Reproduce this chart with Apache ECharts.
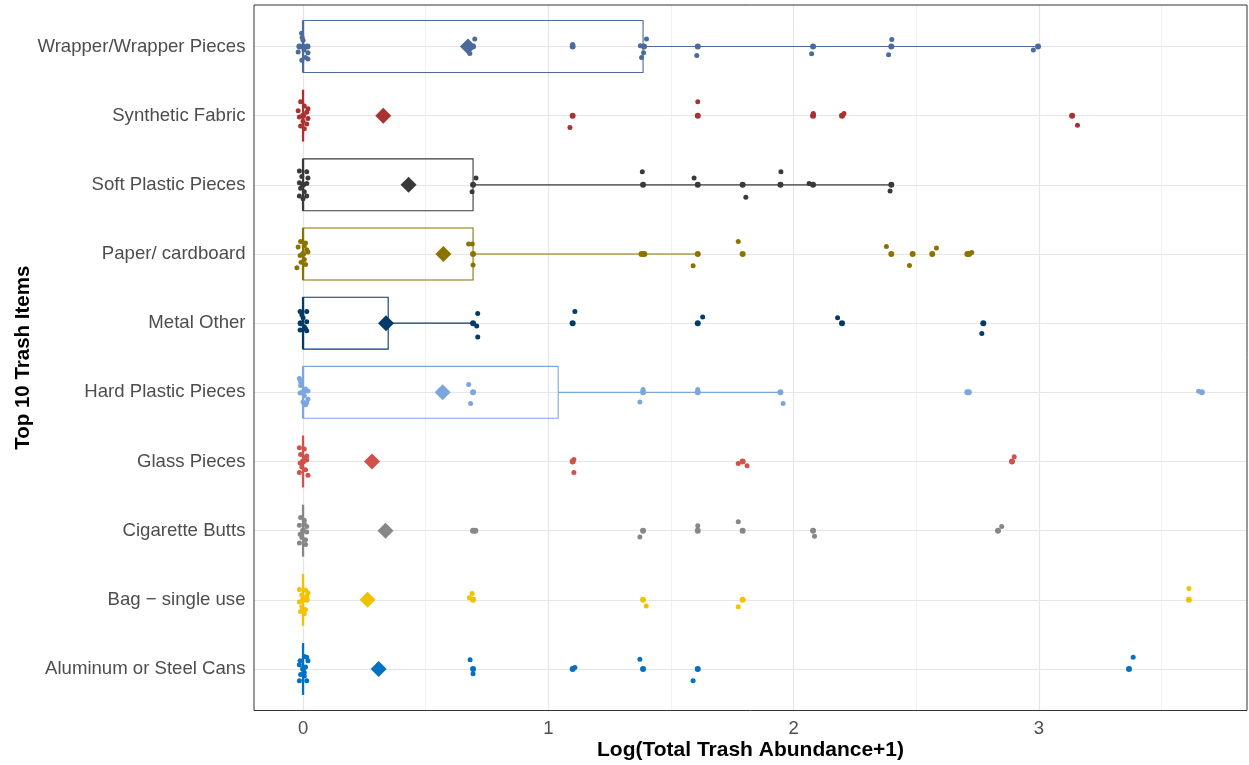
<!DOCTYPE html>
<html>
<head>
<meta charset="utf-8">
<script src="https://cdn.jsdelivr.net/npm/echarts@6/dist/echarts.min.js"></script>
<style>
html,body{margin:0;padding:0;background:#fff;}
#chart{width:1249px;height:765px;}
</style>
</head>
<body>
<div id="chart"></div>
<script>
// ---------- DATA ----------
const categories = ["Wrapper/Wrapper Pieces","Synthetic Fabric","Soft Plastic Pieces","Paper/ cardboard","Metal Other","Hard Plastic Pieces","Glass Pieces","Cigarette Butts","Bag \u2212 single use","Aluminum or Steel Cans"];
const colors = ["#4a6b9b","#a93230","#3a3a3a","#8b7300","#043a6a","#7ba7de","#d0524a","#878787","#f0c200","#0071c3"];
const xTicks = [0,1,2,3];

// box statistics per category: [min, q1, median, q3, whisker max]
const boxWrapper   = [0,0,0,1.386,2.996];
const boxSynthetic = [0,0,0,0,0];
const boxSoft      = [0,0,0,0.693,2.398];
const boxPaper     = [0,0,0,0.693,1.609];
const boxMetal     = [0,0,0,0.347,0.693];
const boxHard      = [0,0,0,1.04,1.946];
const boxGlass     = [0,0,0,0,0];
const boxCig       = [0,0,0,0,0];
const boxBag       = [0,0,0,0,0];
const boxAlu       = [0,0,0,0,0];

const means = [0.672,0.327,0.43,0.572,0.338,0.569,0.281,0.336,0.263,0.308];

// points: [x, vertical offset in category units (+ = up)]
const ptsWrapper = [[-0.006,0.19],[-0.004,0.13],[0.0,0.0],[0.018,0.0],[-0.02,-0.08],[0.004,-0.05],[0.02,-0.09],[0.01,-0.16],[-0.005,-0.2],[0.02,-0.18],[0.0,0.09],[-0.015,0.0],
  [0.693,0],[0.70,0.11],[0.68,-0.1],[0.665,-0.01],[1.099,0],[1.099,0.03],[1.375,0.01],[1.40,0.11],[1.39,0],[1.388,-0.09],[1.38,-0.16],[1.609,0],[1.605,-0.13],
  [2.079,0],[2.073,-0.105],[2.398,0],[2.40,0.1],[2.387,-0.12],[2.996,0],[2.977,-0.05]];
const ptsSynthetic = [[-0.01,0.2],[0.005,0.14],[-0.02,0.07],[0.015,0.05],[0.0,0.0],[-0.015,-0.02],[0.02,-0.04],[0.0,-0.08],[0.015,-0.12],[-0.01,-0.15],[0.005,-0.19],[0.02,0.1],
  [1.099,0],[1.088,-0.17],[1.609,0],[1.609,0.2],[2.079,0],[2.08,0.03],[2.197,0],[2.205,0.03],[3.135,0],[3.157,-0.14]];
const ptsSoft = [[-0.015,0.2],[0.015,0.19],[-0.005,0.12],[0.02,0.1],[0.0,0.0],[-0.015,0.03],[0.015,0.02],[-0.01,-0.05],[0.005,-0.1],[-0.015,-0.16],[0.015,-0.16],[0.0,-0.2],
  [0.693,0],[0.705,0.1],[0.689,-0.1],[1.386,0],[1.383,0.19],[1.609,0],[1.594,0.1],[1.792,0],[1.805,-0.18],[1.946,0],[1.948,0.19],[2.063,0.02],[2.079,0],[2.398,0],[2.393,-0.09]];
const ptsPaper = [[-0.01,0.18],[0.01,0.16],[-0.02,0.1],[0.015,0.06],[0.0,0.0],[-0.012,-0.02],[0.02,0.03],[0.005,-0.08],[-0.008,-0.12],[0.01,-0.15],[-0.025,-0.2],[0.005,0.12],
  [0.693,0],[0.675,0.145],[0.69,0.145],[0.693,-0.16],[1.38,0],[1.391,0],[1.609,0],[1.59,-0.17],[1.774,0.18],[1.792,0],[2.378,0.11],[2.398,0],[2.472,-0.165],[2.485,0],
  [2.565,0],[2.582,0.085],[2.708,0],[2.726,0.02],[2.715,0]];
const ptsMetal = [[-0.012,0.17],[0.015,0.17],[-0.01,0.0],[0.015,0.02],[-0.012,-0.1],[0.015,-0.11],[0.0,0.08],[0.005,-0.05],[-0.005,0.12],[0.01,-0.08],
  [0.693,0],[0.712,0.14],[0.708,-0.04],[0.712,-0.2],[1.099,0],[1.108,0.17],[1.609,0],[1.629,0.09],[2.179,0.08],[2.197,0],[2.773,0],[2.767,-0.15]];
const ptsHard = [[-0.015,0.2],[-0.01,0.15],[0.01,0.05],[0.02,0.02],[0.0,0.0],[-0.012,-0.01],[0.005,-0.05],[0.02,-0.1],[0.0,-0.14],[0.01,-0.18],[-0.01,0.1],[0.015,-0.15],
  [0.675,0.115],[0.693,0],[0.683,-0.16],[1.386,0],[1.386,0.04],[1.373,-0.14],[1.609,0],[1.609,0.04],[1.946,0],[1.957,-0.16],[2.708,0],[2.714,0],[3.651,0.015],[3.664,0]];
const ptsGlass = [[-0.015,0.2],[0.005,0.18],[-0.01,0.1],[0.015,0.08],[0.0,0.0],[-0.012,-0.02],[0.015,0.02],[-0.005,-0.08],[0.01,-0.12],[-0.015,-0.16],[0.02,-0.2],[0.005,0.05],
  [1.099,0],[1.104,0.03],[1.104,-0.16],[1.774,-0.03],[1.792,0],[1.81,-0.06],[2.89,0],[2.899,0.07]];
const ptsCig = [[-0.01,0.19],[0.005,0.15],[-0.015,0.08],[0.015,0.06],[0.0,0.0],[-0.012,-0.05],[0.015,-0.02],[-0.005,-0.1],[0.01,-0.13],[-0.015,-0.18],[0.01,-0.2],[0.005,0.1],
  [0.693,0],[0.702,0],[1.373,-0.09],[1.386,0],[1.609,0],[1.609,0.07],[1.774,0.13],[1.792,0],[2.079,0],[2.085,-0.08],[2.833,0],[2.848,0.06]];
const ptsBag = [[-0.015,0.15],[0.01,0.14],[0.02,0.1],[-0.005,0.07],[0.0,0.0],[-0.015,-0.03],[0.015,0.0],[-0.005,-0.1],[0.01,-0.14],[-0.01,-0.17],[0.005,-0.2],[0.015,0.05],
  [0.689,0.09],[0.678,0.03],[0.693,0],[1.386,0],[1.399,-0.09],[1.774,-0.1],[1.792,0],[3.611,0.165],[3.611,0]];
const ptsAlu = [[-0.012,0.12],[0.005,0.18],[0.015,0.17],[0.02,0.12],[0.0,0.0],[-0.015,0.06],[0.01,0.03],[-0.01,-0.08],[0.005,-0.1],[-0.015,-0.17],[0.015,-0.17],[0.005,-0.05],
  [0.681,0.135],[0.693,0],[0.693,-0.07],[1.099,0],[1.108,0.02],[1.373,0.14],[1.386,0],[1.609,0],[1.59,-0.17],[3.367,0],[3.384,0.17]];

// ---------- BUILD ----------
const boxes = [boxWrapper,boxSynthetic,boxSoft,boxPaper,boxMetal,boxHard,boxGlass,boxCig,boxBag,boxAlu];
const points = [ptsWrapper,ptsSynthetic,ptsSoft,ptsPaper,ptsMetal,ptsHard,ptsGlass,ptsCig,ptsBag,ptsAlu];

const boxData = boxes.map((b, k) => [k].concat(b));
const pointData = [];
points.forEach((arr, k) => arr.forEach(p => pointData.push([p[0], k - p[1], k, p[1]])));
const meanData = means.map((m, k) => [m, k, k]);

const FONT = "'Liberation Sans', Arial, Helvetica, sans-serif";
const catIdx = categories.map((c, i) => i);

const majorX = [0,1,2,3], minorX = [0.5,1.5,2.5,3.5];

function renderBox(params, api) {
  const k = api.value(0);
  const mn = api.value(1), q1 = api.value(2), md = api.value(3), q3 = api.value(4), mx = api.value(5);
  const color = colors[k];
  const yA = api.coord([0, k - 0.375])[1];
  const yB = api.coord([0, k + 0.375])[1];
  const top = Math.min(yA, yB), bot = Math.max(yA, yB);
  const cy = api.coord([0, k])[1];
  const X = v => api.coord([v, k])[0];
  const children = [];
  if (q3 > q1) {
    children.push({type:'rect', shape:{x:X(q1), y:top, width:X(q3)-X(q1), height:bot-top},
      style:{fill:'none', stroke:color, lineWidth:1.1}});
  }
  if (mx > q3) children.push({type:'line', shape:{x1:X(q3), y1:cy, x2:X(mx), y2:cy}, style:{stroke:color, lineWidth:1.1}});
  if (q1 > mn) children.push({type:'line', shape:{x1:X(mn), y1:cy, x2:X(q1), y2:cy}, style:{stroke:color, lineWidth:1.1}});
  children.push({type:'line', shape:{x1:X(md), y1:top, x2:X(md), y2:bot}, style:{stroke:color, lineWidth:2.3}});
  return {type:'group', children};
}

const chart = echarts.init(document.getElementById('chart'), null, {renderer:'canvas'});
chart.setOption({
  animation: false,
  backgroundColor: '#ffffff',
  grid: {left:254, top:5, width:993, height:705.5, show:true, borderColor:'#333333', borderWidth:1,
    backgroundColor:'transparent', z:10, containLabel:false, outerBoundsMode:'none'},
  xAxis: {
    type:'value', min:-0.2, max:3.848,
    axisLine:{show:false},
    splitLine:{show:false},
    axisTick:{show:true, customValues:xTicks, length:4.5, lineStyle:{color:'#333333', width:1}},
    axisLabel:{customValues:xTicks, color:'#4d4d4d', fontSize:18.5, fontFamily:FONT, margin:9},
    name:'Log(Total Trash Abundance+1)', nameLocation:'middle', nameGap:29, nameMoveOverlap:false,
    nameTextStyle:{fontSize:21, fontWeight:'bold', color:'#000', fontFamily:FONT}
  },
  yAxis: {
    type:'value', min:-0.6, max:9.6, inverse:true,
    axisLine:{show:false},
    splitLine:{show:false},
    axisTick:{show:true, customValues:catIdx, length:4.5, lineStyle:{color:'#333333', width:1}},
    axisLabel:{customValues:catIdx, color:'#4d4d4d', fontSize:18.6, fontFamily:FONT, margin:8.5,
      formatter: v => categories[Math.round(v)] || ''},
    name:'Top 10 Trash Items', nameLocation:'middle', nameGap:220, nameRotate:90, nameMoveOverlap:false,
    nameTextStyle:{fontSize:20.5, fontWeight:'bold', color:'#000', fontFamily:FONT}
  },
  series: [
    {
      type:'scatter', data:[], z:1, silent:true,
      markLine:{
        z:1, silent:true, symbol:['none','none'], label:{show:false}, animation:false,
        data: majorX.map(v => ({xAxis:v, lineStyle:{color:'#e6e6e6', width:1.2, type:'solid'}}))
          .concat(minorX.map(v => ({xAxis:v, lineStyle:{color:'#eeeeee', width:0.9, type:'solid'}})))
          .concat(catIdx.map(v => ({yAxis:v, lineStyle:{color:'#e6e6e6', width:1.2, type:'solid'}})))
      }
    },
    {
      type:'custom', data:boxData, z:3, silent:true,
      renderItem: renderBox,
      encode:{x:[1,2,3,4,5], y:0}
    },
    {
      type:'scatter', data:pointData, z:4, silent:true,
      symbol:'circle',
      symbolSize: (v) => v[3] === 0 ? 6 : 5,
      itemStyle:{color: p => colors[p.value[2]], opacity:1}
    },
    {
      type:'scatter', data:meanData, z:5, silent:true,
      symbol:'diamond', symbolSize:[16,16],
      itemStyle:{color: p => colors[p.value[2]], opacity:1}
    }
  ]
});
</script>
</body>
</html>
